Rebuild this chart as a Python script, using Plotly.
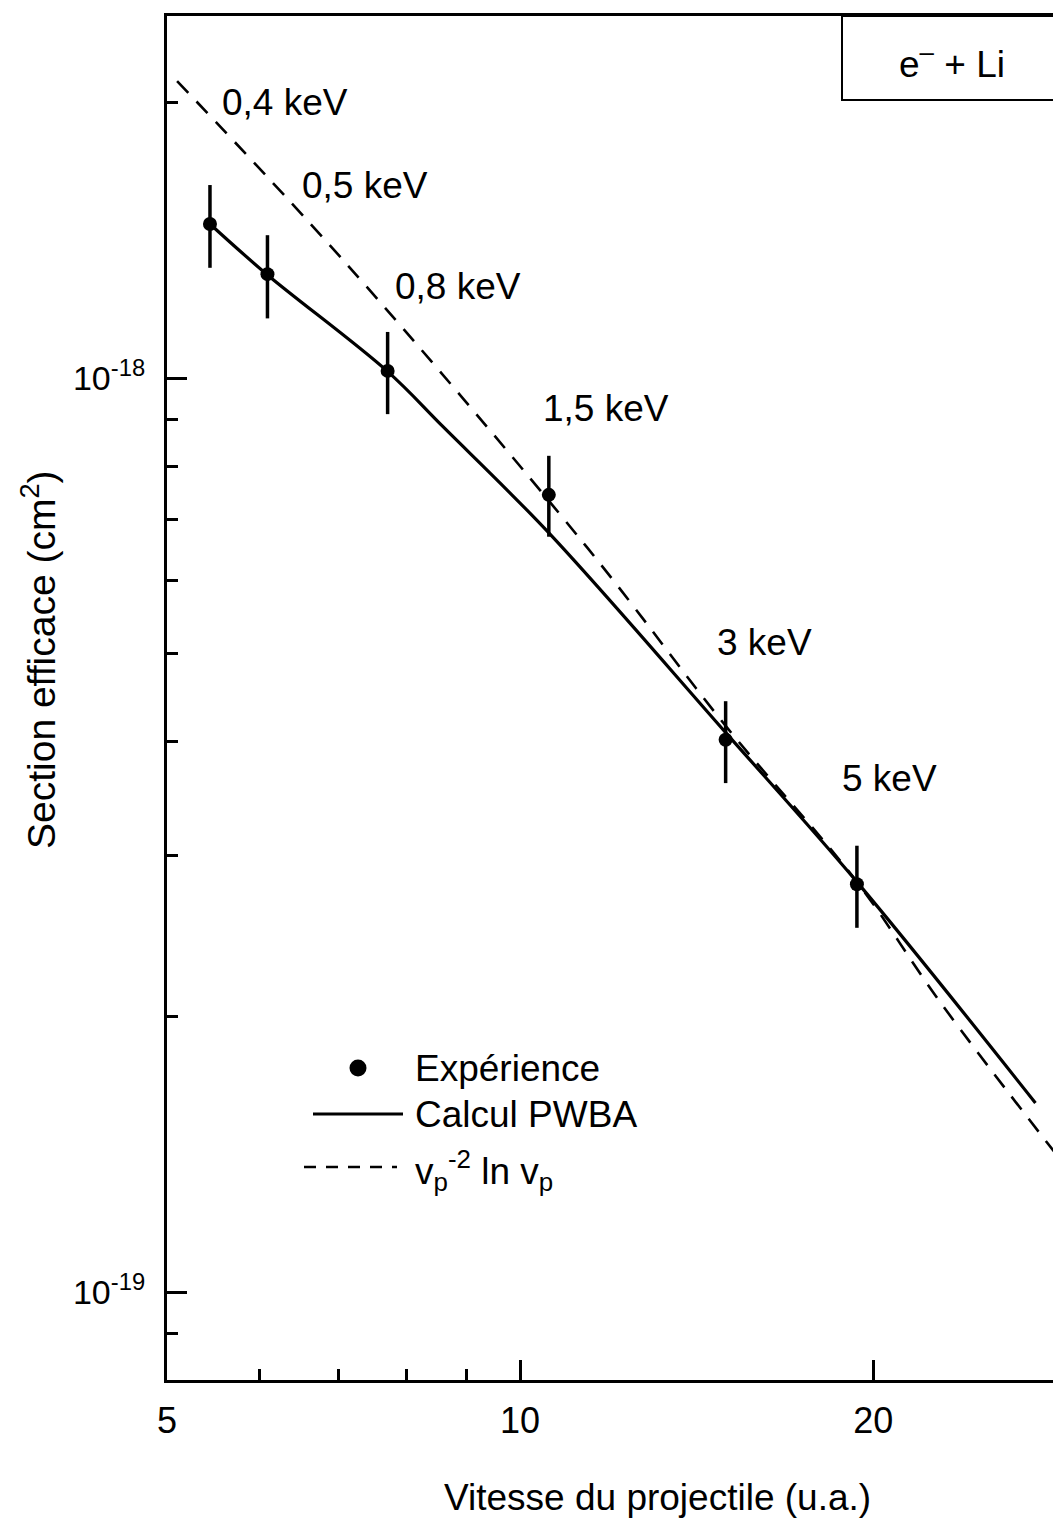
import plotly.graph_objects as go
import math

# ---------------- data ----------------
# experimental points: projectile velocity (a.u.), cross-section (1e-18 cm^2)
exp_v = [5.44, 6.09, 7.71, 10.58, 14.97, 19.37]
exp_sigma = [1.474, 1.299, 1.018, 0.745, 0.402, 0.2793]
exp_err_plus = [0.152, 0.134, 0.105, 0.077, 0.041, 0.0285]
exp_err_minus = [0.154, 0.137, 0.105, 0.0746, 0.0416, 0.029]
energy_labels = ["0,4 keV", "0,5 keV", "0,8 keV", "1,5 keV", "3 keV", "5 keV"]
label_v = [5.55, 6.49, 7.79, 10.42, 14.66, 18.74]
label_sigma = [2.0, 1.626, 1.258, 0.927, 0.513, 0.365]

# PWBA calculation (solid line)
pwba_v = [5.44, 6.08, 7.70, 8.60, 10.58, 14.98, 19.37, 27.5]
pwba_sigma = [1.474, 1.299, 1.018, 0.884, 0.677, 0.409, 0.281, 0.161]

# v_p^-2 ln v_p (dashed line)
law_v = [5.10, 7.09, 11.40, 15.0, 19.37, 22.8, 28.9]
law_sigma = [2.113, 1.339, 0.653, 0.415, 0.281, 0.2077, 0.1394]

x_tick_vals = [5, 10, 20]
x_tick_text = ["5", "10", "20"]
x_minor_vals = [6, 7, 8, 9]
y_tick_vals = [1e-19, 1e-18]
y_tick_text = ["10<sup>-19</sup>", "10<sup>-18</sup>"]
y_minor_vals = [8e-20, 9e-20, 2e-19, 3e-19, 4e-19, 5e-19, 6e-19, 7e-19, 8e-19, 9e-19, 2e-18]

x_title = "Vitesse du projectile (u.a.)"
y_title = "Section efficace (cm<sup>2</sup>)"
system_label = "e<sup>–</sup> + Li"
legend_texts = ["Expérience", "Calcul PWBA", "v<sub>p</sub><sup>-2</sup> ln v<sub>p</sub>"]

UNIT = 1e-18
FONT = "Liberation Sans, Arial, sans-serif"

def sc(vals):
    return [v * UNIT for v in vals]

fig = go.Figure()

fig.add_trace(go.Scatter(
    x=law_v, y=sc(law_sigma), mode="lines", line_shape="spline",
    line=dict(color="black", width=2.6, dash="16px,12px"),
    showlegend=False, name="v_p^-2 ln v_p"))

fig.add_trace(go.Scatter(
    x=pwba_v, y=sc(pwba_sigma), mode="lines", line_shape="spline",
    line=dict(color="black", width=3.2),
    showlegend=False, name="Calcul PWBA"))

fig.add_trace(go.Scatter(
    x=exp_v, y=sc(exp_sigma), mode="markers",
    marker=dict(color="black", size=14),
    error_y=dict(type="data", array=sc(exp_err_plus), arrayminus=sc(exp_err_minus),
                 color="black", thickness=3.5, width=0, symmetric=False),
    showlegend=False, name="Expérience"))

for t, xv, yv in zip(energy_labels, label_v, label_sigma):
    fig.add_annotation(x=math.log10(xv), y=math.log10(yv * UNIT), xref="x", yref="y",
                       text=t, showarrow=False, xanchor="left", yanchor="middle",
                       font=dict(size=37, color="black", family=FONT))

# page layout: the page body adds an 8px margin around the figure
OFF = 8
PL, PT, PR, PB = 167, 16, 1061, 1380       # plot-area edges on the page
W, H = PR - PL, PB - PT
FIG_W, FIG_H = 1061 - OFF, 1526 - 2 * OFF

def px(xp):
    return (xp - PL) / W
def py(yp):
    return (PB - yp) / H

# --- manual legend ---
fig.add_shape(type="circle", xref="paper", yref="paper",
              x0=px(349.5), x1=px(366.5), y0=py(1076.5), y1=py(1059.5),
              fillcolor="black", line=dict(color="black", width=0))
fig.add_shape(type="line", xref="paper", yref="paper",
              x0=px(313), x1=px(403), y0=py(1114), y1=py(1114),
              line=dict(color="black", width=3.2))
fig.add_shape(type="line", xref="paper", yref="paper",
              x0=px(304), x1=px(397), y0=py(1167), y1=py(1167),
              line=dict(color="black", width=2.4, dash="12px,10px"))
legend_y = [1068, 1114, 1170]
for t, yy in zip(legend_texts, legend_y):
    fig.add_annotation(x=px(413), y=py(yy), xref="paper", yref="paper", text=t,
                       showarrow=False, xanchor="left", yanchor="middle",
                       font=dict(size=37, color="black", family=FONT))

# --- e- + Li box ---
fig.add_shape(type="rect", xref="paper", yref="paper",
              x0=px(842), x1=px(1075), y0=py(100), y1=py(16),
              line=dict(color="black", width=2))
fig.add_annotation(x=px(952), y=py(62), xref="paper", yref="paper",
                   text=system_label, showarrow=False,
                   xanchor="center", yanchor="middle",
                   font=dict(size=37, color="black", family=FONT))

# --- axis titles ---
fig.add_annotation(x=px(657), y=py(1497), xref="paper", yref="paper",
                   text=x_title, showarrow=False, xanchor="center", yanchor="middle",
                   font=dict(size=37, color="black", family=FONT))
fig.add_annotation(x=px(38), y=py(660), xref="paper", yref="paper",
                   text=y_title, showarrow=False, textangle=-90,
                   xanchor="center", yanchor="middle",
                   font=dict(size=39, color="black", family=FONT))

x0 = math.log10(5)
x1 = x0 + W / 1173.0
y_top = -18 + (378 - PT) / 914.0
y_bot = -19 - (PB - 1292) / 914.0

fig.update_layout(
    width=FIG_W, height=FIG_H,
    margin=dict(l=PL - OFF, r=0, t=PT - OFF, b=FIG_H - (PT - OFF) - H, pad=0),
    paper_bgcolor="white", plot_bgcolor="white",
    font=dict(family=FONT, color="black"),
    showlegend=False,
    xaxis=dict(type="log", range=[x0, x1], showgrid=False, zeroline=False,
               showline=True, linecolor="black", linewidth=3, mirror=True,
               ticks="inside", ticklen=20, tickwidth=3, tickcolor="black",
               tickvals=x_tick_vals, ticktext=x_tick_text,
               tickfont=dict(size=36, family=FONT, color="black"),
               ticklabelstandoff=7,
               minor=dict(tickvals=x_minor_vals, ticks="inside", ticklen=11,
                          tickwidth=3, tickcolor="black", showgrid=False)),
    yaxis=dict(type="log", range=[y_bot, y_top], showgrid=False, zeroline=False,
               showline=True, linecolor="black", linewidth=3, mirror=False,
               ticks="inside", ticklen=20, tickwidth=3, tickcolor="black",
               tickvals=y_tick_vals, ticktext=y_tick_text,
               tickfont=dict(size=34, family=FONT, color="black"),
               ticklabelstandoff=12,
               minor=dict(tickvals=y_minor_vals, ticks="inside", ticklen=11,
                          tickwidth=3, tickcolor="black", showgrid=False)),
)

fig.write_html("out.html")
